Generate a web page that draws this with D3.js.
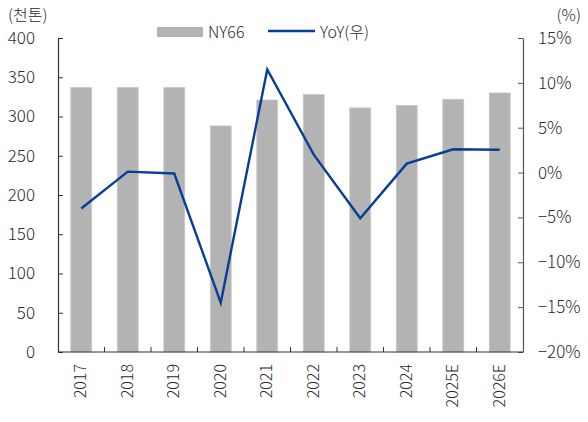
<!DOCTYPE html>
<html>
<head>
<meta charset="utf-8">
<script src="https://cdn.jsdelivr.net/npm/d3@7"></script>
<style>
body { margin: 0; background: #fff; }
svg text { font-family: "Noto Sans CJK KR", "Noto Sans", sans-serif; font-weight: 300; fill: #2a2a2a; }
</style>
</head>
<body>
<div id="chart"></div>
<script>
// data
var years = ["2017", "2018", "2019", "2020", "2021", "2022", "2023", "2024", "2025E", "2026E"];
var volume = [337, 337, 337, 288, 321, 328, 311, 314, 322, 330];   // 천톤
var yoy = [-4.0, 0.1, -0.1, -14.5, 11.5, 2.0, -5.1, 1.0, 2.6, 2.55]; // %
var leftTicks = [0, 50, 100, 150, 200, 250, 300, 350, 400];
var rightTicks = [-20, -15, -10, -5, 0, 5, 10, 15];

var W = 588, H = 422;
var margin = {left: 58, right: 65, top: 38, bottom: 70};

var svg = d3.select("#chart").append("svg")
    .attr("width", W).attr("height", H);

var x = d3.scaleBand().domain(years)
    .range([margin.left, W - margin.right])
    .paddingInner(0.55).paddingOuter(0.275);
var yL = d3.scaleLinear().domain([0, 400]).range([H - margin.bottom, margin.top]);
var yR = d3.scaleLinear().domain([-20, 15]).range([H - margin.bottom, margin.top]);

// bars
svg.append("g").selectAll("rect").data(volume).enter().append("rect")
    .attr("x", function(d, i) { return x(years[i]); })
    .attr("y", function(d) { return yL(d); })
    .attr("width", x.bandwidth())
    .attr("height", function(d) { return yL(0) - yL(d); })
    .attr("fill", "#b3b3b3")
    .attr("stroke", "#c8c8c8").attr("stroke-width", 0.8);

// left axis
var gL = svg.append("g").attr("transform", "translate(" + margin.left + ",0)")
    .call(d3.axisLeft(yL).tickValues(leftTicks).tickSizeInner(-5).tickSizeOuter(0).tickPadding(23));
gL.select(".domain").attr("stroke", "#333").attr("stroke-width", 1.2);
gL.selectAll(".tick line").attr("stroke", "#333");
gL.selectAll("text").style("font-size", "17px").attr("fill", "#2a2a2a");

// right axis
var gR = svg.append("g").attr("transform", "translate(" + (W - margin.right) + ",0)")
    .call(d3.axisRight(yR).tickValues(rightTicks).tickSizeInner(-5).tickSizeOuter(0).tickPadding(15)
        .tickFormat(function(d) { return (d < 0 ? "\u2212" + (-d) : d) + "%"; }));
gR.select(".domain").attr("stroke", "#555").attr("stroke-width", 1.2);
gR.selectAll(".tick line").attr("stroke", "#555");
gR.selectAll("text").style("font-size", "17px").attr("fill", "#2a2a2a");

// bottom axis: ticks between categories
var step = x.step();
var bottom = H - margin.bottom;
var gB = svg.append("g");
gB.append("line")
    .attr("x1", margin.left).attr("x2", W - margin.right)
    .attr("y1", bottom).attr("y2", bottom)
    .attr("stroke", "#333").attr("stroke-width", 1.2);
gB.selectAll("line.sep").data(years.slice(1)).enter().append("line")
    .attr("class", "sep")
    .attr("x1", function(d) { return x(d) + x.bandwidth() / 2 - step / 2; })
    .attr("x2", function(d) { return x(d) + x.bandwidth() / 2 - step / 2; })
    .attr("y1", bottom).attr("y2", bottom - 5)
    .attr("stroke", "#333");
gB.selectAll("text").data(years).enter().append("text")
    .attr("transform", function(d) {
        return "translate(" + (x(d) + x.bandwidth() / 2 + 5) + "," + (bottom + 12) + ") rotate(-90)";
    })
    .attr("text-anchor", "end")
    .style("font-size", "16px")
    .text(function(d) { return d; });

// YoY line
var line = d3.line()
    .x(function(d, i) { return x(years[i]) + x.bandwidth() / 2; })
    .y(function(d) { return yR(d); });
svg.append("path").datum(yoy)
    .attr("d", line)
    .attr("fill", "none")
    .attr("stroke", "#063f96")
    .attr("stroke-width", 2.4)
    .attr("stroke-linejoin", "miter");

// unit labels
svg.append("text").attr("x", 8).attr("y", 21).style("font-size", "16px").text("(천톤)");
svg.append("text").attr("x", 581).attr("y", 21).attr("text-anchor", "end").style("font-size", "16px").text("(%)");

// legend
var lg = svg.append("g");
lg.append("rect").attr("x", 157).attr("y", 27).attr("width", 46).attr("height", 10).attr("fill", "#b3b3b3");
lg.append("text").attr("x", 208).attr("y", 38).style("font-size", "16px").text("NY66");
lg.append("line").attr("x1", 268).attr("x2", 315).attr("y1", 31).attr("y2", 31)
    .attr("stroke", "#063f96").attr("stroke-width", 2.4);
lg.append("text").attr("x", 320).attr("y", 38).style("font-size", "16px").text("YoY(우)");
</script>
</body>
</html>
